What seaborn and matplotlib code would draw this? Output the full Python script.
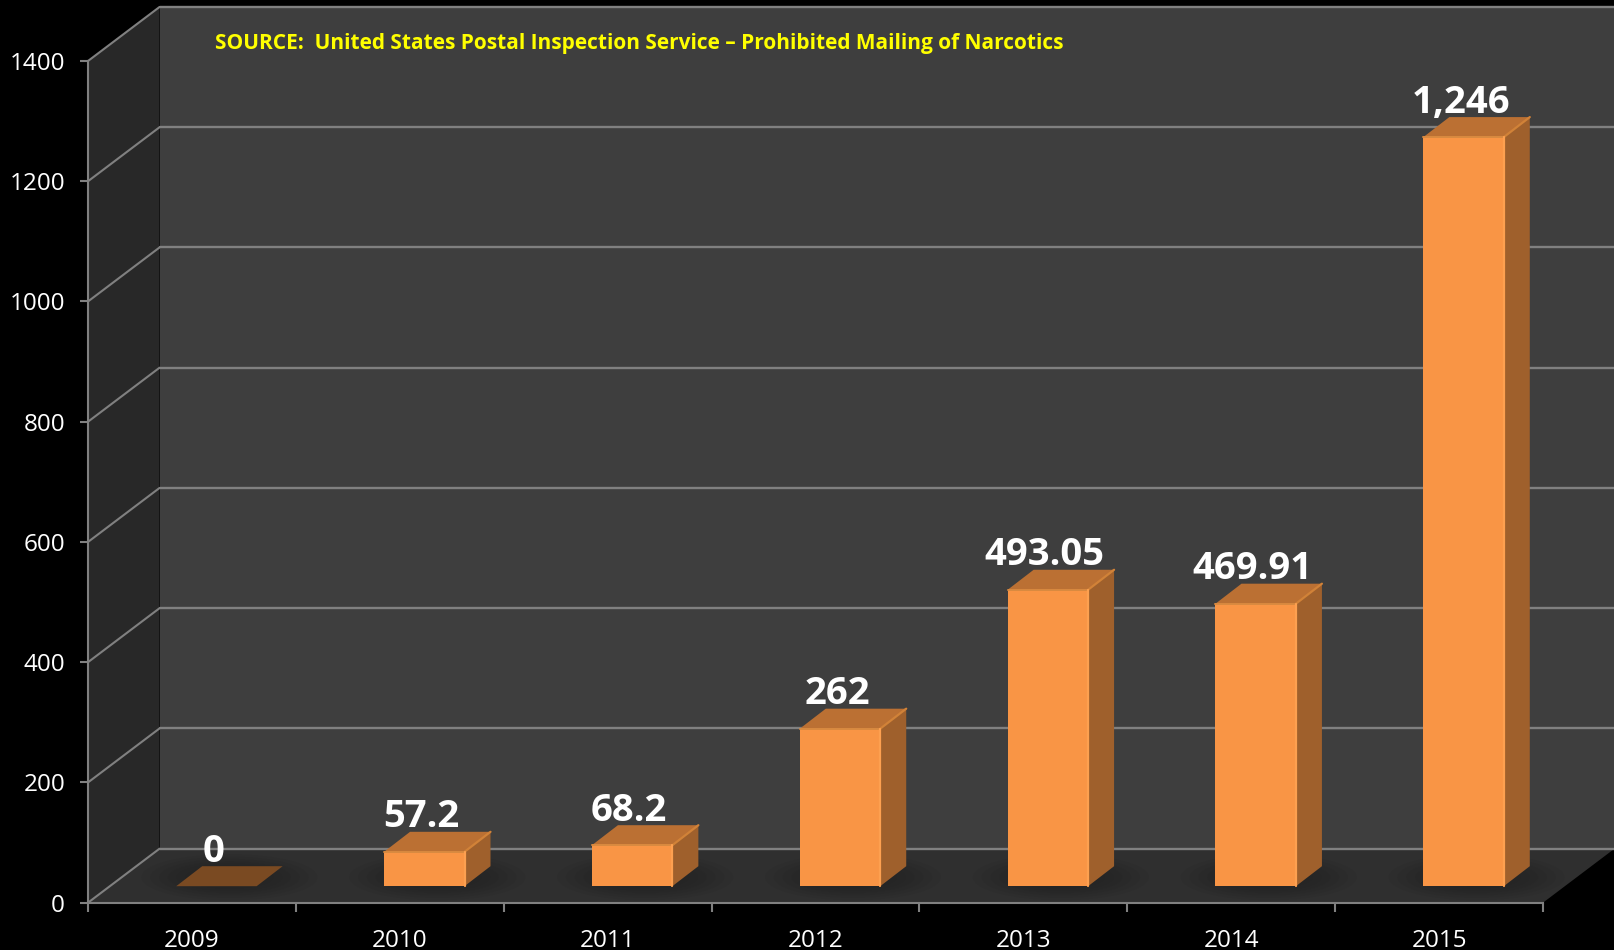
import matplotlib
matplotlib.use("Agg")
import matplotlib.pyplot as plt
import pandas as pd
import seaborn as sns
from matplotlib.patches import Polygon, Ellipse
from matplotlib.transforms import Affine2D

years = ["2009", "2010", "2011", "2012", "2013", "2014", "2015"]
seizures = [0, 57.2, 68.2, 262, 493.05, 469.91, 1246]
value_labels = ["0", "57.2", "68.2", "262", "493.05", "469.91", "1,246"]
y_ticks = [0, 200, 400, 600, 800, 1000, 1200, 1400]
source_text = "SOURCE:  United States Postal Inspection Service \u2013 Prohibited Mailing of Narcotics"

W, H = 1615, 950
AX_L, AX_R, AX_T, AX_B = 88, 1543, 61, 902.7
WALL_DX, WALL_DY = 71.5, 54
BAR_DX, BAR_DY = 24.5, 16.5
DEPTH_DX, DEPTH_DY = 26, 20
BAR_W = 80.5 / 208

FACE, SIDE, TOP = "#f99545", "#9f602c", "#bb7033"
EMPTY = "#7a4a22"
GRID = "#808080"

sns.set_theme(style="white")
plt.rcParams["font.family"] = ["Open Sans", "DejaVu Sans"]

fig = plt.figure(figsize=(W / 100, H / 100), dpi=100, facecolor="black")
ax = fig.add_axes([AX_L / W, 1 - AX_B / H, (AX_R - AX_L) / W, (AX_B - AX_T) / H])
ax.set_facecolor("none")

df = pd.DataFrame({"year": years, "value": seizures})
sns.barplot(data=df, x="year", y="value", color=FACE, width=BAR_W, saturation=1,
            ax=ax, zorder=6, edgecolor="none", linewidth=0)
n = len(years)
ax.set_xlim(-0.5, n - 0.5)
ax.set_ylim(0, max(y_ticks))
ax.set_xlabel("")
ax.set_ylabel("")


def shift(dx, dy):
    return ax.transData + Affine2D().translate(dx, dy)


xl, xr = -0.5, n - 0.5
ymax = max(y_ticks)
back = shift(WALL_DX, WALL_DY)

# back wall, side wall, floor
ax.add_patch(Polygon([(xl, 0), (xr, 0), (xr, ymax), (xl, ymax)], closed=True,
                     transform=back, fc="#3e3e3e", ec="none", zorder=0, clip_on=False))
to_disp = ax.transData
fig.canvas.draw()
p0 = to_disp.transform((xl, 0))
p1 = to_disp.transform((xl, ymax))
p2 = to_disp.transform((xr, 0))
ident = None
ax.add_patch(Polygon([p0, p1, p1 + (WALL_DX, WALL_DY), p0 + (WALL_DX, WALL_DY)], closed=True,
                     transform=ident, fc="#282828", ec="none", zorder=0.5, clip_on=False))
ax.add_patch(Polygon([p0, p2, p2 + (WALL_DX, WALL_DY), p0 + (WALL_DX, WALL_DY)], closed=True,
                     transform=ident, fc="#2f2f2f", ec="none", zorder=0.6, clip_on=False))

# grid lines across back wall and up the side wall
for v in y_ticks:
    pf = to_disp.transform((xl, v))
    pb = pf + (WALL_DX, WALL_DY)
    ax.plot([pf[0], pb[0]], [pf[1], pb[1]], transform=None, color=GRID, lw=1.5,
            zorder=1, clip_on=False, solid_capstyle="round")
    ax.plot([xl, xr], [v, v], transform=back, color=GRID, lw=1.7, zorder=1, clip_on=False)

# floor shadows, bar sides and tops, labels
bars = [p for p in ax.containers[0]]
bar_tf = shift(BAR_DX, BAR_DY)
for bar, val, lab in zip(bars, seizures, value_labels):
    x0, x1 = bar.get_x(), bar.get_x() + bar.get_width()
    cx = (x0 + x1) / 2
    bar.set_transform(bar_tf)
    bar.set_clip_on(False)
    bl = to_disp.transform((x0, 0)) + (BAR_DX, BAR_DY)
    br = to_disp.transform((x1, 0)) + (BAR_DX, BAR_DY)
    tl = to_disp.transform((x0, val)) + (BAR_DX, BAR_DY)
    tr = to_disp.transform((x1, val)) + (BAR_DX, BAR_DY)
    d = (DEPTH_DX, DEPTH_DY)
    # soft shadow
    centre = (bl + br) / 2 + (DEPTH_DX / 2, DEPTH_DY / 2 - 1)
    for k in range(10):
        f = 1 - k / 10
        ax.add_patch(Ellipse(centre, 176 * f, 46 * f, transform=None, fc="#202020",
                             ec="none", alpha=0.13, zorder=2, clip_on=False))
    top_col = EMPTY if val == 0 else TOP
    ax.add_patch(Polygon([br, tr, tr + d, br + d], closed=True, transform=None,
                         fc=SIDE, ec="none", zorder=5, clip_on=False))
    ax.add_patch(Polygon([tl, tr, tr + d, tl + d], closed=True, transform=None,
                         fc=top_col, ec="none", zorder=5, clip_on=False))
    if val > 0:
        ax.plot([tr[0], tr[0] + d[0]], [tr[1], tr[1] + d[1]], transform=None,
                color="#d18238", lw=1.6, zorder=7, clip_on=False)
        ax.plot([tl[0], tr[0]], [tl[1], tr[1]], transform=None,
                color="#d98a40", lw=1.4, zorder=7, clip_on=False)
        ax.plot([tr[0], br[0]], [tr[1], br[1]], transform=None,
                color="#fda050", lw=1.6, zorder=7, clip_on=False)
    else:
        bar.set_visible(False)
    ax.annotate(lab, xy=(cx, val), xycoords="data",
                xytext=(21.5 * 0.72, (BAR_DY + DEPTH_DY + 4.5) * 0.72), textcoords="offset points",
                ha="center", va="baseline", color="white", fontsize=27.5, fontweight="bold",
                family=["Open Sans", "DejaVu Sans"], zorder=8, annotation_clip=False)

# axes furniture
for side in ("top", "right"):
    ax.spines[side].set_visible(False)
for side in ("left", "bottom"):
    ax.spines[side].set_color(GRID)
    ax.spines[side].set_linewidth(1.5)
    ax.spines[side].set_zorder(3)
ax.set_yticks(y_ticks)
ax.set_yticklabels([str(v) for v in y_ticks])
ax.set_xticks(range(n))
ax.set_xticklabels(years)
ax.set_xticks([i - 0.5 for i in range(n + 1)], minor=True)
ax.tick_params(axis="y", length=6, width=1.5, color=GRID, labelcolor="white",
               labelsize=17.5, pad=10.5, left=True)
ax.tick_params(axis="x", which="major", length=0, labelcolor="white", labelsize=17.5, pad=19)
ax.tick_params(axis="x", which="minor", length=6.5, width=1.5, color=GRID, bottom=True)

fig.text(215 / W, 1 - 49 / H, source_text, color="#ffff00", fontsize=15, fontweight="bold",
         ha="left", va="baseline", family=["Open Sans", "DejaVu Sans"])

fig.savefig("out.png", dpi=100, facecolor="black")
